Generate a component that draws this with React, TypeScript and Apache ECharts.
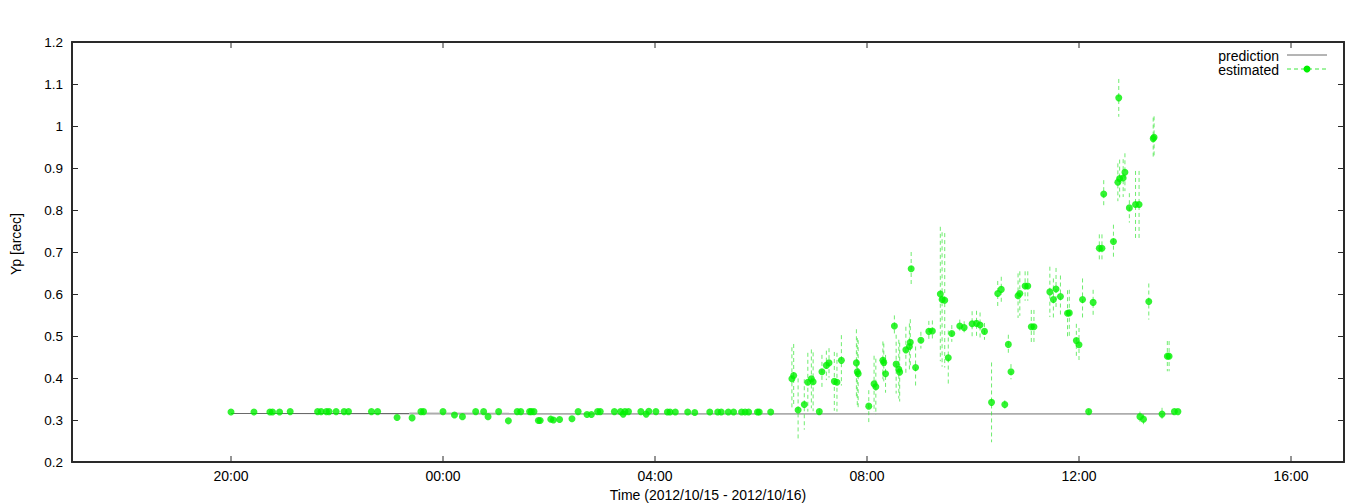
import React, { useEffect, useRef } from "react";
import * as echarts from "echarts";

// ---- data (times on 2012/10/15 from 17:00, otherwise 2012/10/16) ----
const estTimes: string[] = [
  "20:00", "20:26", "20:44", "20:47", "20:55", "21:07", "21:38", "21:42", "21:48", "21:51",
  "21:59", "22:08", "22:13", "22:39", "22:46", "23:08", "23:25", "23:35", "23:38", "00:00",
  "00:13", "00:22", "00:37", "00:46", "00:51", "01:03", "01:14", "01:24", "01:28", "01:38",
  "01:40", "01:43", "01:48", "01:50", "02:02", "02:05", "02:12", "02:26", "02:33", "02:43",
  "02:48", "02:55", "02:58", "03:14", "03:21", "03:24", "03:26", "03:30", "03:44", "03:50",
  "03:53", "04:01", "04:14", "04:17", "04:23", "04:37", "04:45", "05:02", "05:11", "05:15",
  "05:23", "05:29", "05:38", "05:42", "05:46", "05:56", "05:58", "06:11",
  "06:35", "06:37", "06:42", "06:49", "06:53", "06:57", "06:59", "07:06", "07:09", "07:14",
  "07:17", "07:23", "07:26", "07:31", "07:48", "07:49", "07:50", "08:02", "08:08", "08:10",
  "08:18", "08:19", "08:21", "08:31", "08:33", "08:36", "08:37", "08:44", "08:48", "08:49",
  "08:50", "08:55", "09:01", "09:10", "09:14", "09:23", "09:25", "09:28", "09:32", "09:36",
  "09:45", "09:50", "09:59", "10:04", "10:08", "10:13", "10:21", "10:28", "10:32", "10:36",
  "10:40", "10:43", "10:51", "10:53", "10:59", "11:02", "11:06", "11:09", "11:27", "11:31",
  "11:34", "11:39", "11:47", "11:49", "11:57", "12:00", "12:04", "12:11", "12:16", "12:23",
  "12:26", "12:28", "12:39", "12:44", "12:45", "12:46", "12:50", "12:52", "12:57", "13:04",
  "13:08", "13:09", "13:13", "13:19", "13:24", "13:25", "13:34", "13:40", "13:42", "13:48",
  "13:52",
];

const estValues: number[] = [
  0.319, 0.319, 0.319, 0.319, 0.319, 0.32, 0.32, 0.32, 0.32, 0.32,
  0.32, 0.32, 0.32, 0.32, 0.32, 0.306, 0.305, 0.32, 0.32, 0.32,
  0.312, 0.308, 0.32, 0.32, 0.308, 0.32, 0.298, 0.32, 0.32, 0.32,
  0.32, 0.32, 0.299, 0.299, 0.302, 0.3, 0.301, 0.303, 0.32, 0.313,
  0.313, 0.32, 0.32, 0.32, 0.32, 0.314, 0.32, 0.32, 0.32, 0.314,
  0.321, 0.32, 0.319, 0.319, 0.319, 0.319, 0.318, 0.319, 0.319, 0.319,
  0.319, 0.319, 0.319, 0.319, 0.319, 0.319, 0.319, 0.319,
  0.398, 0.406, 0.324, 0.337, 0.39, 0.398, 0.391, 0.32, 0.415, 0.43,
  0.436, 0.392, 0.39, 0.442, 0.436, 0.415, 0.41, 0.333, 0.386, 0.379,
  0.442, 0.437, 0.41, 0.524, 0.433, 0.421, 0.414, 0.467, 0.475, 0.485,
  0.66, 0.425, 0.49, 0.511, 0.512, 0.6, 0.587, 0.585, 0.448, 0.506,
  0.524, 0.52, 0.529, 0.53, 0.526, 0.511, 0.342, 0.601, 0.611, 0.337,
  0.48, 0.415, 0.596, 0.601, 0.619, 0.619, 0.522, 0.522, 0.605, 0.587,
  0.612, 0.594, 0.554, 0.555, 0.489, 0.479, 0.587, 0.32, 0.58, 0.709,
  0.709, 0.838, 0.725, 0.866, 1.067, 0.875, 0.876, 0.89, 0.805, 0.813,
  0.813, 0.308, 0.302, 0.582, 0.97, 0.973, 0.314, 0.452, 0.452, 0.32,
  0.32,
];

const estErrors: number[] = [
  0, 0, 0, 0, 0, 0, 0, 0, 0, 0,
  0, 0, 0, 0, 0, 0, 0, 0, 0, 0,
  0, 0, 0, 0, 0, 0, 0, 0, 0, 0,
  0, 0, 0, 0, 0, 0, 0, 0, 0, 0,
  0, 0, 0, 0, 0, 0, 0, 0, 0, 0,
  0, 0, 0, 0, 0, 0, 0, 0, 0, 0,
  0, 0, 0, 0, 0, 0, 0, 0,
  0.075, 0.075, 0.075, 0.06, 0.07, 0.07, 0.07, 0.005, 0.04, 0.035,
  0.035, 0.07, 0.07, 0.06, 0.08, 0.08, 0.08, 0.038, 0.067, 0.067,
  0.045, 0.045, 0.045, 0.025, 0.07, 0.07, 0.07, 0.055, 0.055, 0.055,
  0.04, 0.05, 0.02, 0.025, 0.025, 0.16, 0.16, 0.16, 0.065, 0.02,
  0.015, 0.015, 0.03, 0.03, 0.03, 0.02, 0.095, 0.03, 0.03, 0.01,
  0.023, 0.018, 0.053, 0.053, 0.035, 0.035, 0.04, 0.04, 0.06, 0.05,
  0.05, 0.05, 0.055, 0.055, 0.04, 0.04, 0.05, 0.005, 0.03, 0.033,
  0.033, 0.033, 0.04, 0.045, 0.045, 0.045, 0.045, 0.045, 0.035, 0.08,
  0.08, 0.012, 0.012, 0.043, 0.05, 0.05, 0.015, 0.036, 0.036, 0,
  0,
];

const predTimes: string[] = ["20:00", "23:22", "13:48"];
const predValues: number[] = [0.3155, 0.3152, 0.3146];

const xTickLabels: string[] = ["20:00", "00:00", "04:00", "08:00", "12:00", "16:00"];
const axisStart = "17:00"; // 2012/10/15
const axisEnd = "17:00"; // 2012/10/16
const yMin = 0.2;
const yMax = 1.2;

// hours since 2012/10/15 00:00
function hrs(s: string, forceNextDay = false): number {
  const [h, m] = s.split(":").map(Number);
  const nextDay = forceNextDay || h < 17;
  return (nextDay ? 24 : 0) + h + m / 60;
}

export default function App() {
  const ref = useRef<HTMLDivElement>(null);

  useEffect(() => {
    if (!ref.current) return;
    const chart = echarts.init(ref.current, null, { renderer: "svg" });

    const xMin = hrs(axisStart);
    const xMax = hrs(axisEnd, true);
    const tickData = xTickLabels.map((t) => [hrs(t), yMin]);

    const estData = estTimes.map((t, i) => [hrs(t), estValues[i], estErrors[i]]);
    const predA = [0, 1].map((i) => [hrs(predTimes[i]), predValues[i]]);
    const predB = [1, 2].map((i) => [hrs(predTimes[i]), predValues[i]]);

    const font = "'Liberation Sans', Arial, Helvetica, sans-serif";
    const frame = "#2a2a2a";

    const commonX = {
      type: "value" as const,
      min: xMin,
      max: xMax,
      splitLine: { show: false },
      axisLine: { show: true, onZero: false, lineStyle: { color: frame, width: 2 } },
      axisTick: { show: false },
      axisLabel: { show: false },
    };
    const commonY = {
      type: "value" as const,
      min: yMin,
      max: yMax,
      interval: 0.1,
      splitLine: { show: false },
      axisLine: { show: true, onZero: false, lineStyle: { color: frame, width: 2 } },
      axisTick: { show: true, inside: true, length: 6, lineStyle: { color: frame, width: 1 } },
    };

    chart.setOption({
      animation: false,
      backgroundColor: "#fff",
      textStyle: { fontFamily: font },
      grid: { left: 72, right: 24, top: 42, bottom: 42, containLabel: false },
      xAxis: [
        { ...commonX, position: "bottom" },
        { ...commonX, position: "top" },
      ],
      yAxis: [
        {
          ...commonY,
          position: "left",
          axisLabel: {
            show: true,
            formatter: (v: number) => String(+v.toFixed(1)),
            fontSize: 13.5,
            color: "#000",
            fontFamily: font,
            margin: 9,
          },
        },
        { ...commonY, position: "right", axisLabel: { show: false } },
      ],
      series: [
        {
          name: "prediction",
          type: "line",
          xAxisIndex: 0,
          yAxisIndex: 0,
          data: predA,
          showSymbol: false,
          symbol: "none",
          lineStyle: { width: 1.2, color: "#6a6a6a" },
          silent: true,
          z: 1,
        },
        {
          name: "prediction ",
          type: "line",
          xAxisIndex: 0,
          yAxisIndex: 0,
          data: predB,
          showSymbol: false,
          symbol: "none",
          lineStyle: { width: 2, color: "#adadad" },
          silent: true,
          z: 1,
        },
        {
          name: "estimated-err",
          type: "custom",
          xAxisIndex: 0,
          yAxisIndex: 0,
          data: estData,
          encode: { x: 0, y: 1 },
          silent: true,
          z: 2,
          renderItem: (params: any, api: any) => {
            const x = api.value(0);
            const y = api.value(1);
            const e = api.value(2);
            if (!e) return null;
            const p1 = api.coord([x, y + e]);
            const p2 = api.coord([x, y - e]);
            return {
              type: "line",
              shape: { x1: p1[0], y1: p1[1], x2: p2[0], y2: p2[1] },
              style: { stroke: "#3fe63f", lineWidth: 1, lineDash: [4, 3], opacity: 0.75 },
            };
          },
        },
        {
          name: "estimated",
          type: "scatter",
          xAxisIndex: 0,
          yAxisIndex: 0,
          data: estData.map((d) => [d[0], d[1]]),
          symbol: "circle",
          symbolSize: 7,
          itemStyle: { color: "#00f000" },
          silent: true,
          z: 3,
        },
        {
          name: "x-ticks",
          type: "custom",
          xAxisIndex: 0,
          yAxisIndex: 0,
          data: tickData,
          encode: { x: 0, y: 1 },
          clip: false,
          silent: true,
          z: 4,
          renderItem: (params: any, api: any) => {
            const x = api.value(0);
            const label = xTickLabels[params.dataIndex];
            const b = api.coord([x, yMin]);
            const t = api.coord([x, yMax]);
            return {
              type: "group",
              children: [
                {
                  type: "line",
                  shape: { x1: b[0], y1: b[1], x2: b[0], y2: b[1] - 6 },
                  style: { stroke: frame, lineWidth: 1 },
                },
                {
                  type: "line",
                  shape: { x1: t[0], y1: t[1], x2: t[0], y2: t[1] + 6 },
                  style: { stroke: frame, lineWidth: 1 },
                },
                {
                  type: "text",
                  x: b[0],
                  y: b[1] + 14,
                  style: {
                    text: label,
                    fill: "#000",
                    font: "14px " + font,
                    textAlign: "center",
                    textVerticalAlign: "middle",
                  },
                },
              ],
            };
          },
        },
      ],
      graphic: [
        {
          type: "text",
          x: 1279,
          y: 56,
          style: { text: "prediction", fill: "#000", font: "14px " + font, textAlign: "right", textVerticalAlign: "middle" },
        },
        {
          type: "line",
          shape: { x1: 1287, y1: 55, x2: 1327, y2: 55 },
          style: { stroke: "#6a6a6a", lineWidth: 1 },
        },
        {
          type: "text",
          x: 1279,
          y: 70,
          style: { text: "estimated", fill: "#000", font: "14px " + font, textAlign: "right", textVerticalAlign: "middle" },
        },
        {
          type: "line",
          shape: { x1: 1287, y1: 69, x2: 1327, y2: 69 },
          style: { stroke: "#3fe63f", lineWidth: 1, lineDash: [4, 3] },
        },
        {
          type: "circle",
          shape: { cx: 1307, cy: 69, r: 3.5 },
          style: { fill: "#00f000" },
        },
        {
          type: "text",
          x: 16,
          y: 244,
          rotation: Math.PI / 2,
          style: { text: "Yp [arcec]", fill: "#000", font: "14px " + font, textAlign: "center", textVerticalAlign: "middle" },
        },
        {
          type: "text",
          x: 708,
          y: 495,
          style: { text: "Time (2012/10/15 - 2012/10/16)", fill: "#000", font: "14px " + font, textAlign: "center", textVerticalAlign: "middle" },
        },
      ],
    });

    return () => chart.dispose();
  }, []);

  return (
    <div
      ref={ref}
      style={{ position: "fixed", left: 0, top: 0, width: 1368, height: 504, background: "#fff" }}
    />
  );
}
